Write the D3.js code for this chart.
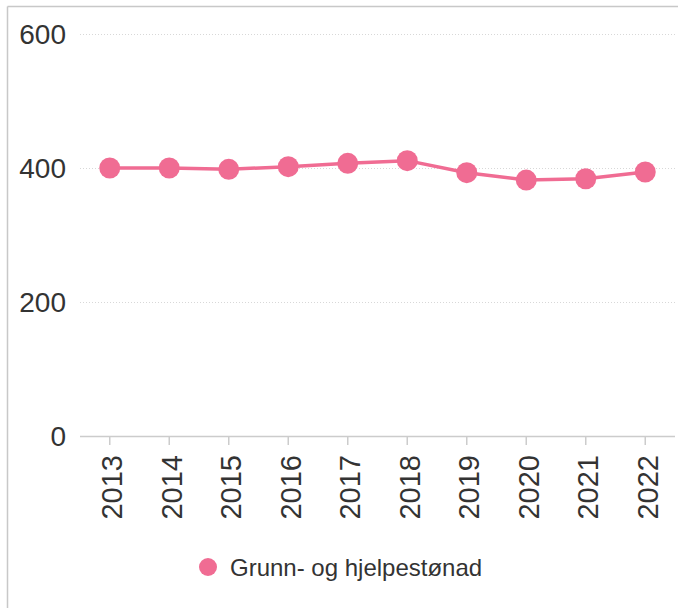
<!DOCTYPE html>
<html>
<head>
<meta charset="utf-8">
<script src="https://cdn.jsdelivr.net/npm/d3@7"></script>
<style>
  html, body { margin: 0; padding: 0; background: #fff; }
  svg { display: block; font-family: "Liberation Sans", Arial, sans-serif; }
</style>
</head>
<body>
<svg id="chart" width="678" height="608"></svg>
<script>
const years = ["2013","2014","2015","2016","2017","2018","2019","2020","2021","2022"];
const values = [400, 400, 398, 402, 407, 411, 393, 382, 384, 394];
const yTicks = [0, 200, 400, 600];
const seriesName = "Grunn- og hjelpestønad";
const color = "#f06c93";

const svg = d3.select("#chart");
const x = d3.scaleBand().domain(years).range([80, 675]);
const y = d3.scaleLinear().domain([0, 600]).range([436, 34]);

// frame
svg.append("line").attr("x1", 7.5).attr("x2", 678).attr("y1", 6.5).attr("y2", 6.5)
  .attr("stroke", "#c8c8c8").attr("stroke-width", 1.5);
svg.append("line").attr("x1", 7.5).attr("x2", 7.5).attr("y1", 6.5).attr("y2", 608)
  .attr("stroke", "#c8c8c8").attr("stroke-width", 1.5);

// grid
svg.append("g").selectAll("line").data(yTicks.filter(d => d > 0)).join("line")
  .attr("x1", 80).attr("x2", 675)
  .attr("y1", d => Math.round(y(d)) + 0.5).attr("y2", d => Math.round(y(d)) + 0.5)
  .attr("stroke", "#d8d8d8").attr("stroke-width", 1).attr("stroke-dasharray", "1,2");

// y labels
svg.append("g").selectAll("text").data(yTicks).join("text")
  .attr("x", 66).attr("y", d => y(d)).attr("dy", "0.36em")
  .attr("text-anchor", "end").attr("font-size", 28).attr("fill", "#333")
  .text(d => d);

// x axis line and ticks
svg.append("line").attr("x1", 80).attr("x2", 675).attr("y1", 436.5).attr("y2", 436.5)
  .attr("stroke", "#ccc").attr("stroke-width", 1.5);
svg.append("g").selectAll("line").data(years).join("line")
  .attr("x1", d => x(d) + x.bandwidth() / 2).attr("x2", d => x(d) + x.bandwidth() / 2)
  .attr("y1", 436).attr("y2", 445)
  .attr("stroke", "#ccc").attr("stroke-width", 1.5);
svg.append("g").selectAll("text").data(years).join("text")
  .attr("transform", d => `translate(${x(d) + x.bandwidth() / 2 + 12.5},455) rotate(-90)`)
  .attr("text-anchor", "end").attr("font-size", 29).attr("fill", "#333")
  .text(d => d);

// line
const cx = d => x(d) + x.bandwidth() / 2;
const line = d3.line().x((d, i) => cx(years[i])).y(d => y(d));
svg.append("path").datum(values).attr("d", line)
  .attr("fill", "none").attr("stroke", color).attr("stroke-width", 3.5)
  .attr("stroke-linejoin", "round");
svg.append("g").selectAll("circle").data(values).join("circle")
  .attr("cx", (d, i) => cx(years[i])).attr("cy", d => y(d)).attr("r", 10.5)
  .attr("fill", color);

// legend
svg.append("circle").attr("cx", 208).attr("cy", 567).attr("r", 9).attr("fill", color);
svg.append("text").attr("x", 230).attr("y", 567).attr("dy", "0.36em")
  .attr("font-size", 24).attr("fill", "#333").text(seriesName);
</script>
</body>
</html>
